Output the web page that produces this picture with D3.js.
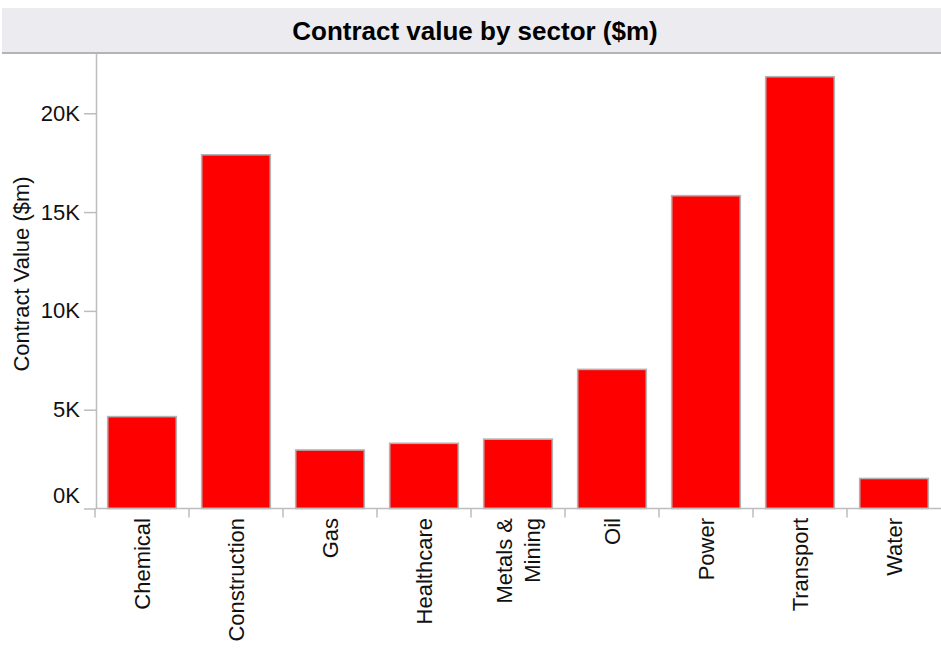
<!DOCTYPE html>
<html>
<head>
<meta charset="utf-8">
<script src="https://cdn.jsdelivr.net/npm/d3@7"></script>
<style>
  html, body { margin: 0; padding: 0; background: #fff; }
  svg { display: block; font-family: "Liberation Sans", Arial, Helvetica, sans-serif; }
</style>
</head>
<body>
<svg id="chart" width="941" height="663"></svg>
<script>
// Sector names (line breaks mark wrapped labels)
const sectors = ["Chemical", "Construction", "Gas", "Healthcare", "Metals &\nMining", "Oil", "Power", "Transport", "Water"];
// Contract value per sector, $m
const contractValues = [4650, 17900, 2960, 3300, 3510, 7040, 15830, 21850, 1520];
// Y axis tick values
const yTickValues = [0, 5000, 10000, 15000, 20000];

const chartTitle = "Contract value by sector ($m)";
const yAxisTitle = "Contract Value ($m)";

const svg = d3.select("#chart");

const plot = { left: 96, right: 941, top: 53, bottom: 508.5 };

const data = sectors.map((s, i) => ({ sector: s, value: contractValues[i] }));

const x = d3.scaleBand()
  .domain(sectors)
  .range([95, plot.right])
  .paddingInner(0.27)
  .paddingOuter(0.135);

const y = d3.scaleLinear()
  .domain([0, 23050])
  .range([plot.bottom, plot.top]);

// Title band
svg.append("rect")
  .attr("x", 2).attr("y", 8)
  .attr("width", 939).attr("height", 45)
  .attr("fill", "#ebebf0");
svg.append("line")
  .attr("x1", 2).attr("x2", 941)
  .attr("y1", 53).attr("y2", 53)
  .attr("stroke", "#b4b4b4").attr("stroke-width", 2);
svg.append("text")
  .attr("x", 475).attr("y", 40)
  .attr("text-anchor", "middle")
  .attr("font-size", 26).attr("font-weight", "bold")
  .attr("fill", "#000")
  .text(chartTitle);

// Bars
svg.append("g")
  .selectAll("rect")
  .data(data)
  .join("rect")
  .attr("x", d => x(d.sector))
  .attr("width", x.bandwidth())
  .attr("y", d => y(d.value))
  .attr("height", d => y(0) - y(d.value))
  .attr("fill", "#ff0000")
  .attr("stroke", "#b3b3b3")
  .attr("stroke-width", 1.6);

// Y axis
const yAxis = svg.append("g")
  .attr("transform", `translate(${plot.left},0)`)
  .call(d3.axisLeft(y)
    .tickValues(yTickValues)
    .tickFormat(d => (d / 1000) + "K")
    .tickSize(12)
    .tickPadding(4)
    .tickSizeOuter(0));
yAxis.select(".domain").attr("stroke", "#bdbdbd").attr("stroke-width", 1.5);
yAxis.selectAll(".tick line").attr("stroke", "#bdbdbd").attr("stroke-width", 1.5);
yAxis.selectAll(".tick text")
  .attr("font-size", 22)
  .attr("font-family", "'Liberation Sans', Arial, sans-serif")
  .attr("fill", "#111")
  // the zero label sits above its tick so it stays inside the plot
  .attr("y", d => d === 0 ? -13 : 0);

// X axis: baseline with boundary ticks between categories
const xAxisG = svg.append("g");
xAxisG.append("line")
  .attr("x1", plot.left).attr("x2", plot.right)
  .attr("y1", plot.bottom).attr("y2", plot.bottom)
  .attr("stroke", "#bdbdbd").attr("stroke-width", 1.5);
const boundaries = sectors.map(s => x(s) - x.step() * x.paddingOuter());
xAxisG.selectAll("line.bound")
  .data(boundaries)
  .join("line")
  .attr("class", "bound")
  .attr("x1", d => d).attr("x2", d => d)
  .attr("y1", plot.bottom).attr("y2", plot.bottom + 9)
  .attr("stroke", "#bdbdbd").attr("stroke-width", 1.5);

// Rotated category labels
const lineGap = 27.3;
const labels = xAxisG.selectAll("text.cat")
  .data(data)
  .join("text")
  .attr("class", "cat")
  .attr("font-size", 22)
  .attr("fill", "#111")
  .attr("text-anchor", "end")
  .attr("transform", d => `translate(${x(d.sector) + x.bandwidth() / 2},518) rotate(-90)`);
labels.each(function(d) {
  const lines = d.sector.split("\n");
  const first = -(lines.length - 1) * lineGap / 2 + 7.9;
  d3.select(this).selectAll("tspan")
    .data(lines)
    .join("tspan")
    .attr("x", 0)
    .attr("y", (l, i) => first + i * lineGap)
    .text(l => l);
});

// Y axis title
svg.append("text")
  .attr("transform", "translate(29,274) rotate(-90)")
  .attr("text-anchor", "middle")
  .attr("font-size", 22)
  .attr("fill", "#111")
  .text(yAxisTitle);
</script>
</body>
</html>
